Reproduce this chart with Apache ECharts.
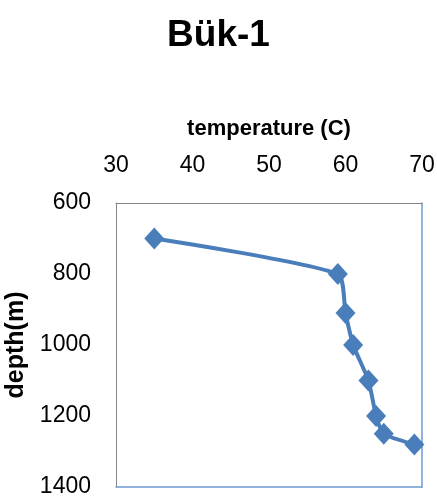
<!DOCTYPE html>
<html>
<head>
<meta charset="utf-8">
<script src="https://cdn.jsdelivr.net/npm/echarts@6/dist/echarts.min.js"></script>
<style>html,body{margin:0;padding:0;background:#fff}#c{width:437px;height:498px}</style>
</head>
<body>
<div id="c"></div>
<script>
const titleText = 'Bük-1';
const xName = 'temperature (C)';
const yName = 'depth(m)';
const temperature = [35, 59, 60, 61, 63, 64, 65, 69];
const depth = [700, 800, 910, 1000, 1100, 1200, 1250, 1280];
const xTicks = [30, 40, 50, 60, 70];
const yTicks = [600, 800, 1000, 1200, 1400];

const data = temperature.map((t, i) => [t, depth[i]]);
const plain = v => String(v);
const chart = echarts.init(document.getElementById('c'));
chart.setOption({
  animation: false,
  backgroundColor: '#fff',
  title: {
    text: titleText, left: 'center', top: 12,
    textStyle: { fontFamily: 'Liberation Sans', fontWeight: 'bold', fontSize: 37, color: '#000' }
  },
  grid: { left: 116, top: 203, right: 15, bottom: 11, containLabel: false, outerBoundsMode: 'none' },
  xAxis: [{
    type: 'value', position: 'top', min: xTicks[0], max: xTicks[xTicks.length - 1], interval: 10,
    name: xName, nameLocation: 'middle', nameGap: 63,
    nameTextStyle: { fontFamily: 'Liberation Sans', fontWeight: 'bold', fontSize: 22, color: '#000' },
    axisLine: { show: true, lineStyle: { color: '#868686', width: 1 } },
    axisTick: { show: false }, splitLine: { show: false },
    axisLabel: { margin: 26, formatter: plain, fontFamily: 'Liberation Sans', fontSize: 23, color: '#000' }
  }, {
    type: 'value', position: 'bottom', min: xTicks[0], max: xTicks[xTicks.length - 1], interval: 10,
    axisLine: { show: true, onZero: false, lineStyle: { color: '#6f9bd1', width: 1.5 } },
    axisTick: { show: false }, splitLine: { show: false }, axisLabel: { show: false }
  }],
  yAxis: [{
    type: 'value', inverse: true, min: yTicks[0], max: yTicks[yTicks.length - 1], interval: 200,
    name: yName, nameLocation: 'middle', nameGap: 82, nameRotate: 90,
    nameTextStyle: { fontFamily: 'Liberation Sans', fontWeight: 'bold', fontSize: 25, color: '#000' },
    axisLine: { show: true, lineStyle: { color: '#868686', width: 1 } },
    axisTick: { show: false }, splitLine: { show: false },
    axisLabel: { margin: 25, formatter: plain, fontFamily: 'Liberation Sans', fontSize: 23, color: '#000' }
  }, {
    type: 'value', position: 'right', inverse: true, min: yTicks[0], max: yTicks[yTicks.length - 1], interval: 200,
    axisLine: { show: true, onZero: false, lineStyle: { color: '#6f9bd1', width: 1.5 } },
    axisTick: { show: false }, splitLine: { show: false }, axisLabel: { show: false }
  }],
  series: [{
    type: 'line', data: data, smooth: 0.2,
    xAxisIndex: 0, yAxisIndex: 0,
    symbol: 'diamond', symbolSize: [20, 22],
    lineStyle: { color: '#4a7ebb', width: 4 },
    itemStyle: { color: '#4a7ebb' }
  }]
});
</script>
</body>
</html>
